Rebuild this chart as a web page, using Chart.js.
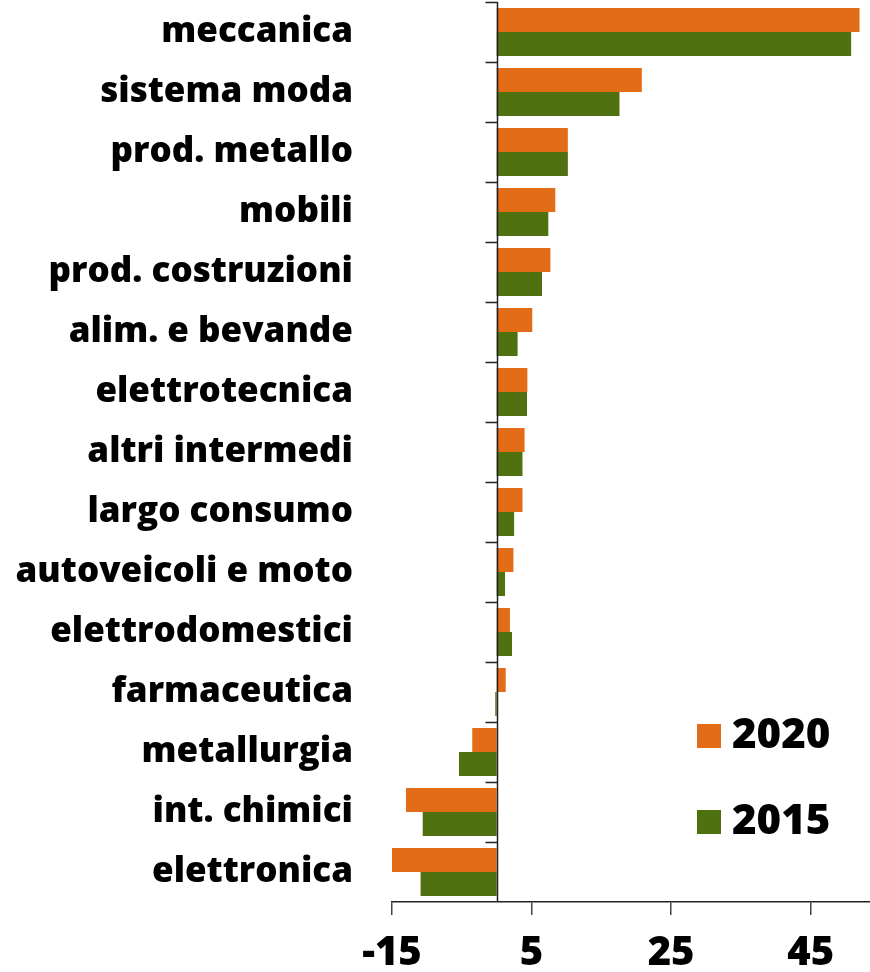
<!DOCTYPE html>
<html>
<head>
<meta charset="utf-8">
<script src="https://cdn.jsdelivr.net/npm/chart.js@4"></script>
<style>
  html, body { margin: 0; padding: 0; background: #fff; }
  #wrap { position: relative; width: 870px; height: 972px; }
</style>
</head>
<body>
<div id="wrap"><canvas id="chart" width="870" height="972"></canvas></div>
<script>
// data
const categories = ['meccanica', 'sistema moda', 'prod. metallo', 'mobili', 'prod. costruzioni',
    'alim. e bevande', 'elettrotecnica', 'altri intermedi', 'largo consumo', 'autoveicoli e moto',
    'elettrodomestici', 'farmaceutica', 'metallurgia', 'int. chimici', 'elettronica'];
const values2020 = [52.0, 20.8, 10.2, 8.4, 7.7, 5.1, 4.4, 4.0, 3.7, 2.4, 1.9, 1.3, -3.5, -13.0, -15.0];
const values2015 = [50.8, 17.6, 10.2, 7.4, 6.5, 3.0, 4.35, 3.7, 2.5, 1.2, 2.2, -0.2, -5.4, -10.6, -10.9];
const xTicks = [-15, 5, 25, 45];

const ORANGE = '#e36c19';
const GREEN = '#507110';
const FONT = "'Open Sans', 'Noto Sans', sans-serif";

// zero line with tick marks between categories
const zeroAxis = {
    id: 'zeroAxis',
    afterDatasetsDraw(chart) {
        const { ctx, chartArea, scales: { x, y } } = chart;
        const x0 = Math.round(x.getPixelForValue(0)) + 0.5;
        const half = (y.getPixelForValue(1) - y.getPixelForValue(0)) / 2;
        ctx.save();
        ctx.strokeStyle = '#222';
        ctx.lineWidth = 1.5;
        ctx.beginPath();
        ctx.moveTo(x0, chartArea.top);
        ctx.lineTo(x0, chartArea.bottom);
        for (let i = 0; i < categories.length; i++) {
            const yy = Math.round(y.getPixelForValue(i) - half) + 0.5;
            ctx.moveTo(x0 - 12, yy);
            ctx.lineTo(x0, yy);
        }
        ctx.stroke();
        ctx.restore();
    }
};

// legend in the lower right corner
const cornerLegend = {
    id: 'cornerLegend',
    afterDraw(chart) {
        const ctx = chart.ctx;
        ctx.save();
        ctx.font = "800 42px " + FONT;
        ctx.textBaseline = 'middle';
        chart.data.datasets.forEach((ds, i) => {
            const top = 724 + i * 86;
            ctx.fillStyle = ds.backgroundColor;
            ctx.fillRect(697, top, 24, 24);
            ctx.fillStyle = '#000';
            ctx.fillText(ds.label, 732, top + 12);
        });
        ctx.restore();
    }
};

new Chart(document.getElementById('chart'), {
    type: 'bar',
    data: {
        labels: categories,
        datasets: [
            { label: '2020', data: values2020, backgroundColor: ORANGE },
            { label: '2015', data: values2015, backgroundColor: GREEN }
        ]
    },
    options: {
        indexAxis: 'y',
        responsive: false,
        animation: false,
        layout: { padding: { top: 2, right: 0, left: 0, bottom: 0 } },
        datasets: {
            bar: { categoryPercentage: 0.8, barPercentage: 1.0 }
        },
        scales: {
            x: {
                min: -15,
                max: 53.5,
                afterBuildTicks(scale) {
                    scale.ticks = xTicks.map(v => ({ value: v }));
                },
                afterFit(scale) {
                    scale.height = 70;
                    scale.paddingLeft = 0;
                    scale.paddingRight = 0;
                },
                grid: { drawOnChartArea: false, tickLength: 13, color: '#444', lineWidth: 1.5 },
                border: { display: true, color: '#222', width: 1.5 },
                ticks: {
                    color: '#000',
                    padding: 15,
                    maxRotation: 0,
                    font: { family: FONT, size: 40, weight: '800' },
                    callback: v => v
                }
            },
            y: {
                afterFit(scale) {
                    scale.width = 392;
                    scale.paddingTop = 0;
                    scale.paddingBottom = 0;
                },
                grid: { display: false },
                border: { display: false },
                ticks: {
                    color: '#000',
                    padding: 31,
                    autoSkip: false,
                    font: { family: FONT, size: 35, weight: '800' }
                }
            }
        },
        plugins: {
            legend: { display: false },
            tooltip: { enabled: false }
        }
    },
    plugins: [zeroAxis, cornerLegend]
});
</script>
</body>
</html>
